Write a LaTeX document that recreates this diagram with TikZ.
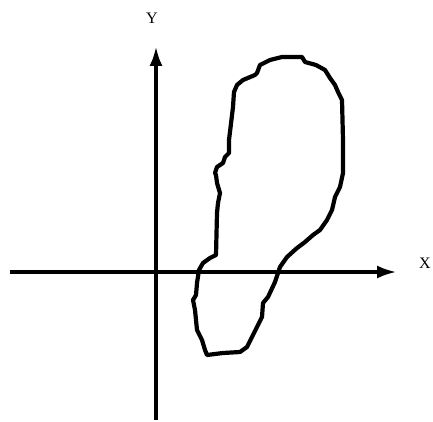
\documentclass[tikz,border=0pt]{standalone}
\usepackage{fontspec}
\setmainfont{Liberation Serif}
\usetikzlibrary{arrows.meta}
\begin{document}
\begin{tikzpicture}[x=1pt,y=-1pt,
  axis/.style={line width=3.8pt,-{Latex[length=20pt,width=13pt]}},
  blob/.style={line width=4.2pt,line join=round,line cap=round},
  lbl/.style={font=\fontsize{16}{19}\selectfont,inner sep=0pt}]
\useasboundingbox (0,0) rectangle (433,422);
\coordinate (xs) at (10,272);
\coordinate (xe) at (397,272);
\coordinate (ys) at (156,420);
\coordinate (ye) at (156,46);
\draw[axis] (xs) -- (xe);
\draw[axis] (ys) -- (ye);
\node[lbl] (ylab) at (152,18) {Y};
\node[lbl] (xlab) at (425,263) {X};
\draw[blob] (282,57) -- (302,57) -- (305,62) -- (316,65) -- (325,70) -- (330,78) -- (335,85) -- (338,92) -- (342,100) -- (343,140) -- (343,173) -- (340,187) -- (335,197) -- (332,210) -- (327,220) -- (320,230) -- (313,235) -- (305,242) -- (297,248) -- (287,257) -- (280,267) -- (275,282) -- (268,297) -- (263,303) -- (262,317) -- (258,325) -- (252,337) -- (247,347) -- (240,352) -- (223,353) -- (207,355) -- (205,350) -- (202,340) -- (197,330) -- (195,310) -- (193,300) -- (196,295) -- (197,283) -- (199,270) -- (203,263) -- (210,258) -- (216,255) -- (217,213) -- (218,203) -- (220,193) -- (217,183) -- (216,175) -- (215,173) -- (217,167) -- (223,163) -- (225,157) -- (229,153) -- (229,140) -- (233,107) -- (234,92) -- (237,85) -- (243,80) -- (255,75) -- (257,73) -- (260,65) -- (270,60) -- cycle;
\end{tikzpicture}
\end{document}
